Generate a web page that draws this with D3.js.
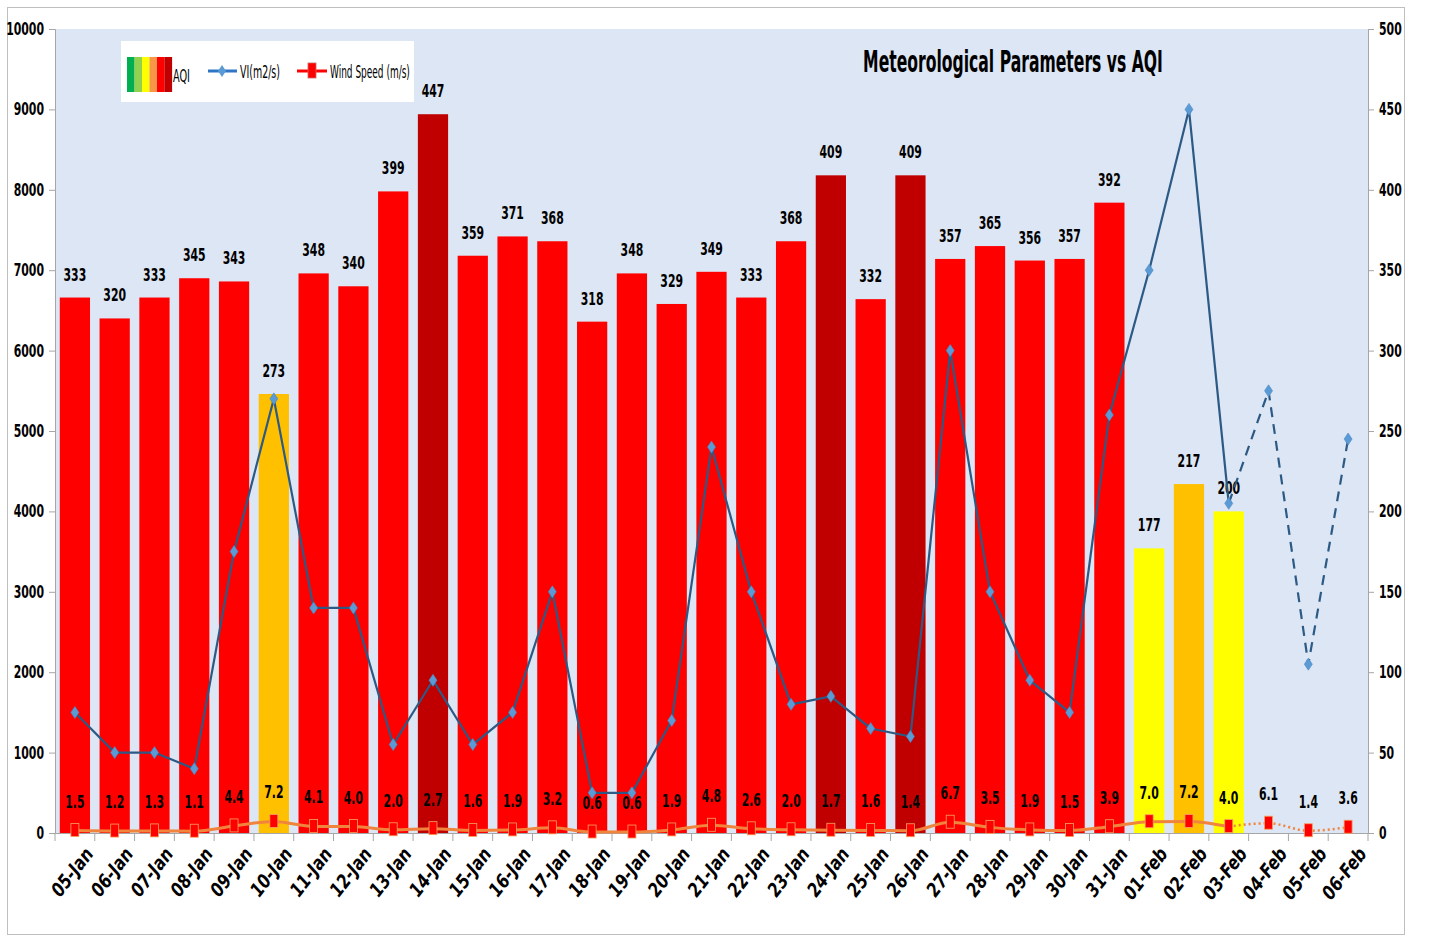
<!DOCTYPE html>
<html><head><meta charset="utf-8">
<script src="https://cdn.jsdelivr.net/npm/d3@7"></script>
<style>body{margin:0;background:#fff}svg{display:block}svg text{font-family:"DejaVu Sans",sans-serif}</style>
</head><body><svg id="c" width="1433" height="937"></svg>
<script>
const dates=["05-Jan","06-Jan","07-Jan","08-Jan","09-Jan","10-Jan","11-Jan","12-Jan","13-Jan","14-Jan","15-Jan","16-Jan","17-Jan","18-Jan","19-Jan","20-Jan","21-Jan","22-Jan","23-Jan","24-Jan","25-Jan","26-Jan","27-Jan","28-Jan","29-Jan","30-Jan","31-Jan","01-Feb","02-Feb","03-Feb","04-Feb","05-Feb","06-Feb"];
const aqi=[333,320,333,345,343,273,348,340,399,447,359,371,368,318,348,329,349,333,368,409,332,409,357,365,356,357,392,177,217,200];
const vi=[1500,1000,1000,800,3500,5400,2800,2800,1100,1900,1100,1500,3000,500,500,1400,4800,3000,1600,1700,1300,1200,6000,3000,1900,1500,5200,7000,9000,4100,5500,2100,4900];
const wind=[1.5,1.2,1.3,1.1,4.4,7.2,4.1,4.0,2.0,2.7,1.6,1.9,3.2,0.6,0.6,1.9,4.8,2.6,2.0,1.7,1.6,1.4,6.7,3.5,1.9,1.5,3.9,7.0,7.2,4.0,6.1,1.4,3.6];
const forecastFrom="03-Feb";
const leftTicks=[0,1000,2000,3000,4000,5000,6000,7000,8000,9000,10000];
const rightTicks=[0,50,100,150,200,250,300,350,400,450,500];

function aqiColor(v){return v>400?"#c00000":v>300?"#ff0000":v>200?"#ffc000":v>100?"#ffff00":"#92d050";}
const SX=0.64;

const svg=d3.select("#c");
const L=55,R=1368,T=29,B=833;
svg.append("rect").attr("x",7.5).attr("y",7.5).attr("width",1397).attr("height",927).attr("fill","#fff").attr("stroke","#bfbfbf");
svg.append("rect").attr("x",L).attr("y",T).attr("width",R-L).attr("height",B-T).attr("fill","#dce6f4");

const x=d3.scaleBand().domain(dates).range([L,R]).padding(0);
const cx=d=>x(d)+x.bandwidth()/2;
const yL=d3.scaleLinear().domain([0,10000]).range([B,T]);
const yR=d3.scaleLinear().domain([0,500]).range([B,T]);
const bw=x.bandwidth()*0.76;

// fit text to width by horizontal scaling
function fitText(g,tx,ty,w,size,weight,anchor,str){
  const t=g.append("text").attr("font-size",size).attr("font-weight",weight).attr("fill","#000").attr("text-anchor",anchor).text(str);
  const len=t.node().getComputedTextLength();
  t.attr("transform",`translate(${tx},${ty}) scale(${w/len},1)`);
  return t;
}

// bars
const bars=aqi.map((v,i)=>({d:dates[i],v}));
svg.append("g").selectAll("rect").data(bars).join("rect")
 .attr("x",d=>cx(d.d)-bw/2).attr("y",d=>yR(d.v)).attr("width",bw).attr("height",d=>B-yR(d.v))
 .attr("fill",d=>aqiColor(d.v));
svg.append("g").selectAll("text").data(bars).join("text")
 .attr("transform",d=>`translate(${cx(d.d)},${yR(d.v)-17}) scale(${SX},1)`).attr("text-anchor","middle")
 .attr("font-size",17).attr("font-weight","bold").attr("fill","#000").text(d=>d.v);

// axes
const gl=svg.append("g").attr("transform",`translate(${L},0)`).call(d3.axisLeft(yL).tickValues(leftTicks).tickSize(6).tickFormat(d3.format("d")));
const gr=svg.append("g").attr("transform",`translate(${R},0)`).call(d3.axisRight(yR).tickValues(rightTicks).tickSize(6).tickFormat(d3.format("d")));
[gl,gr].forEach(g=>{g.select(".domain").attr("stroke","#a6a6a6");g.selectAll(".tick line").attr("stroke","#a6a6a6");
 g.selectAll("text").attr("font-size",17).attr("font-weight","bold").attr("fill","#000").attr("transform",`scale(${SX},1)`).style("font-family","DejaVu Sans");});
gl.selectAll("text").attr("x",-11/SX);
gr.selectAll("text").attr("x",11/SX);

const gx=svg.append("g").attr("transform",`translate(0,${B})`).call(d3.axisBottom(x).tickSize(0).tickFormat(""));
gx.select(".domain").attr("stroke","#a6a6a6");
svg.append("g").selectAll("line").data(dates.concat(["end"])).join("line")
 .attr("x1",(d,i)=>L+i*x.step()).attr("x2",(d,i)=>L+i*x.step()).attr("y1",B).attr("y2",B+8).attr("stroke","#a6a6a6");
svg.append("g").selectAll("text").data(dates).join("text")
 .attr("transform",d=>`translate(${cx(d)+9},${B+13}) rotate(-52) scale(0.82,1)`)
 .attr("text-anchor","end").attr("dy","0.7em").attr("font-size",19).attr("font-weight","bold").attr("font-style","italic").attr("fill","#000").text(d=>d);

// VI line
const fi=dates.indexOf(forecastFrom);
const viPts=vi.map((v,i)=>({d:dates[i],v,i}));
const lineL=d3.line().x(d=>cx(d.d)).y(d=>yL(d.v));
svg.append("path").datum(viPts.filter(p=>p.i<=fi)).attr("d",lineL).attr("fill","none").attr("stroke","#2c5a85").attr("stroke-width",2.2);
svg.append("path").datum(viPts.filter(p=>p.i>=fi)).attr("d",lineL).attr("fill","none").attr("stroke","#2c5a85").attr("stroke-width",2.2).attr("stroke-dasharray","10,7");
svg.append("g").selectAll("path").data(viPts).join("path")
 .attr("transform",d=>`translate(${cx(d.d)},${yL(d.v)})`).attr("d","M0,-6L4,0L0,6L-4,0Z").attr("fill","#5b9bd5").attr("stroke","#4a88c4").attr("stroke-width",0.6);

// Wind speed
const wPts=wind.map((v,i)=>({d:dates[i],v,i}));
const lineR=d3.line().x(d=>cx(d.d)).y(d=>yR(d.v)).curve(d3.curveMonotoneX);
svg.append("path").datum(wPts.filter(p=>p.i<=fi)).attr("d",lineR).attr("fill","none").attr("stroke","#f0843c").attr("stroke-width",3);
svg.append("path").datum(wPts.filter(p=>p.i>=fi)).attr("d",lineR).attr("fill","none").attr("stroke","#f0843c").attr("stroke-width",2.5).attr("stroke-dasharray","2,3");
svg.append("g").selectAll("rect").data(wPts).join("rect")
 .attr("x",d=>cx(d.d)-4).attr("y",d=>yR(d.v)-7).attr("width",8).attr("height",13)
 .attr("fill","#ff0000").attr("stroke","#f4a460").attr("stroke-width",0.8);
svg.append("g").selectAll("text").data(wPts).join("text")
 .attr("transform",d=>`translate(${cx(d.d)},${yR(d.v)-23}) scale(${SX},1)`).attr("text-anchor","middle")
 .attr("font-size",17).attr("font-weight","bold").attr("fill","#000").text(d=>d.v.toFixed(1));

// title
fitText(svg,1013,72,300,31,"bold","middle","Meteorological Parameters vs AQI");

// legend
const lg=svg.append("g");
lg.append("rect").attr("x",121).attr("y",41).attr("width",293).attr("height",61).attr("fill","#fff");
const sw=["#00b050","#92d050","#ffff00","#f79646","#ff0000","#c00000"];
lg.selectAll("rect.s").data(sw).join("rect").attr("class","s").attr("x",(d,i)=>127+i*7.5).attr("y",57).attr("width",7.6).attr("height",35).attr("fill",d=>d);
fitText(lg,173,82,17,17,"normal","start","AQI");
lg.append("line").attr("x1",208).attr("x2",237).attr("y1",71).attr("y2",71).attr("stroke","#2e75c6").attr("stroke-width",3);
lg.append("path").attr("transform","translate(222,71)").attr("d","M0,-6L4,0L0,6L-4,0Z").attr("fill","#5b9bd5");
fitText(lg,240,78,40,17,"normal","start","VI(m2/s)");
lg.append("line").attr("x1",297).attr("x2",327).attr("y1",71).attr("y2",71).attr("stroke","#ff0000").attr("stroke-width",3);
lg.append("rect").attr("x",308).attr("y",63).attr("width",8).attr("height",15).attr("fill","#ff0000").attr("stroke","#c86464").attr("stroke-width",0.8);
fitText(lg,330,78,80,17,"normal","start","Wind Speed (m/s)");
</script></body></html>
